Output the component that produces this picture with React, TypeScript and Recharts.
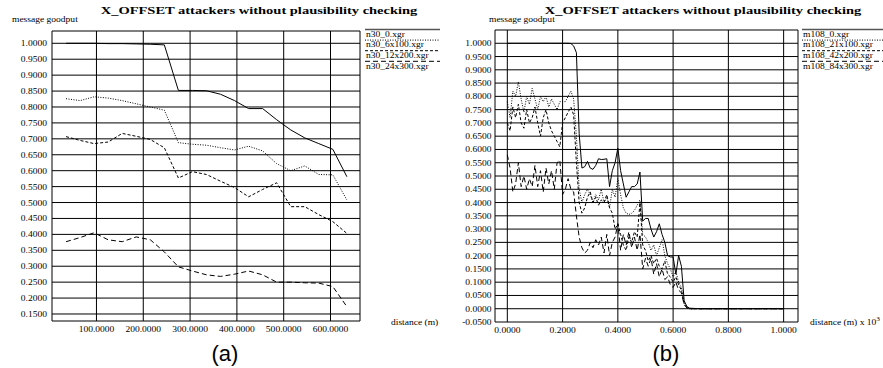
import React from "react";
import { LineChart, Line, XAxis, YAxis, CartesianGrid } from "recharts";

// panel (a): n30 runs, distance in metres
const distA = [35, 65, 95, 125, 155, 185, 215, 245, 275, 305, 335, 365, 395, 425, 455, 485, 515, 545, 575, 605, 635];
const n30_0 = [1.0, 1.0, 1.0, 0.999, 0.999, 0.998, 0.997, 0.995, 0.852, 0.852, 0.851, 0.84, 0.82, 0.795, 0.795, 0.76, 0.728, 0.703, 0.685, 0.667, 0.581];
const n30_6x100 = [0.826, 0.82, 0.832, 0.828, 0.82, 0.81, 0.8, 0.79, 0.688, 0.683, 0.68, 0.672, 0.665, 0.677, 0.662, 0.622, 0.6, 0.615, 0.588, 0.587, 0.508];
const n30_12x200 = [0.707, 0.695, 0.685, 0.69, 0.717, 0.708, 0.698, 0.672, 0.577, 0.597, 0.588, 0.567, 0.547, 0.518, 0.541, 0.562, 0.487, 0.487, 0.462, 0.44, 0.403];
const n30_24x300 = [0.377, 0.39, 0.405, 0.383, 0.377, 0.392, 0.383, 0.345, 0.298, 0.285, 0.273, 0.268, 0.275, 0.285, 0.273, 0.25, 0.25, 0.248, 0.247, 0.236, 0.173];

const xTicksA = [100, 200, 300, 400, 500, 600];
const yTicksA = [0.15, 0.2, 0.25, 0.3, 0.35, 0.4, 0.45, 0.5, 0.55, 0.6, 0.65, 0.7, 0.75, 0.8, 0.85, 0.9, 0.95, 1.0];

// panel (b): m108 runs, distance in km (m x 10^3)
const distB = [
  0.0, 0.01, 0.02, 0.03, 0.04, 0.05, 0.06, 0.07, 0.08, 0.09,
  0.1, 0.11, 0.12, 0.13, 0.14, 0.15, 0.16, 0.17, 0.18, 0.19,
  0.2, 0.21, 0.22, 0.23, 0.24, 0.25, 0.26, 0.27, 0.28, 0.29,
  0.3, 0.31, 0.32, 0.33, 0.34, 0.35, 0.36, 0.37, 0.38, 0.39,
  0.4, 0.41, 0.42, 0.43, 0.44, 0.45, 0.46, 0.47, 0.48, 0.49,
  0.5, 0.51, 0.52, 0.53, 0.54, 0.55, 0.56, 0.57, 0.58, 0.59,
  0.6, 0.61, 0.62, 0.63, 0.64, 0.65, 0.66, 0.7, 0.8, 0.9, 1.0,
];
const m108_0 = [
  1.0, 1.0, 1.0, 1.0, 1.0, 1.0, 1.0, 1.0, 1.0, 1.0,
  1.0, 1.0, 1.0, 1.0, 1.0, 1.0, 1.0, 1.0, 1.0, 1.0,
  1.0, 1.0, 1.0, 0.999, 0.99, 0.965, 0.66, 0.53, 0.535, 0.555,
  0.53, 0.525, 0.54, 0.565, 0.562, 0.563, 0.565, 0.46, 0.52, 0.55,
  0.605, 0.52, 0.47, 0.42, 0.44, 0.46, 0.46, 0.47, 0.515, 0.33,
  0.34, 0.34, 0.3, 0.27, 0.29, 0.32, 0.28, 0.25, 0.2, 0.195,
  0.195, 0.13, 0.2, 0.16, 0.03, 0.008, 0.002, 0, 0, 0, 0,
];
const m108_21x100 = [
  0.78, 0.72, 0.82, 0.8, 0.855, 0.79, 0.74, 0.8, 0.77, 0.83,
  0.79, 0.75, 0.8, 0.78, 0.8, 0.76, 0.79, 0.77, 0.75, 0.78,
  0.78, 0.78, 0.8, 0.82, 0.79, 0.65, 0.45, 0.4, 0.43, 0.45,
  0.43, 0.4, 0.43, 0.41, 0.45, 0.4, 0.42, 0.38, 0.45, 0.42,
  0.49, 0.43, 0.38, 0.36, 0.355, 0.36, 0.37, 0.39, 0.41, 0.28,
  0.27, 0.25, 0.22, 0.24, 0.2, 0.23, 0.26, 0.2, 0.17, 0.15,
  0.12, 0.14, 0.1, 0.08, 0.02, 0.005, 0.0, 0, 0, 0, 0,
];
const m108_42x200 = [
  0.7, 0.67, 0.76, 0.72, 0.77, 0.7, 0.68, 0.75, 0.7, 0.72,
  0.76, 0.7, 0.65, 0.72, 0.75, 0.7, 0.67, 0.65, 0.63, 0.61,
  0.7, 0.72, 0.74, 0.76, 0.73, 0.55, 0.4, 0.36, 0.38, 0.42,
  0.44, 0.4, 0.42, 0.39, 0.41, 0.4, 0.43, 0.38, 0.36, 0.3,
  0.32, 0.28, 0.24, 0.22, 0.27, 0.25, 0.29, 0.27, 0.4, 0.24,
  0.22, 0.18, 0.2, 0.17, 0.19, 0.16, 0.15, 0.18, 0.13, 0.12,
  0.1, 0.12, 0.09, 0.07, 0.02, 0.004, 0.0, 0, 0, 0, 0,
];
const m108_84x300 = [
  0.58, 0.53, 0.44, 0.47, 0.55, 0.46, 0.5, 0.45, 0.49, 0.46,
  0.54, 0.46, 0.52, 0.44, 0.53, 0.47, 0.52, 0.45, 0.55, 0.56,
  0.43, 0.45, 0.49, 0.45, 0.44, 0.35, 0.27, 0.23, 0.21, 0.22,
  0.25, 0.23, 0.26, 0.24, 0.27, 0.21, 0.28, 0.2, 0.25, 0.27,
  0.32, 0.22, 0.28, 0.24, 0.29, 0.23, 0.27, 0.22, 0.28, 0.15,
  0.19, 0.16, 0.19, 0.13, 0.17, 0.12, 0.15, 0.11, 0.12, 0.09,
  0.08, 0.1, 0.07, 0.06, 0.015, 0.003, 0.0, 0, 0, 0, 0,
];

const xTicksB = [0, 0.2, 0.4, 0.6, 0.8, 1.0];
const yTicksB = [
  -0.05, 0, 0.05, 0.1, 0.15, 0.2, 0.25, 0.3, 0.35, 0.4, 0.45,
  0.5, 0.55, 0.6, 0.65, 0.7, 0.75, 0.8, 0.85, 0.9, 0.95, 1.0,
];

const namesA = ["n30_0.xgr", "n30_6x100.xgr", "n30_12x200.xgr", "n30_24x300.xgr"];
const namesB = ["m108_0.xgr", "m108_21x100.xgr", "m108_42x200.xgr", "m108_84x300.xgr"];
const dashes = ["0", "1 1.5", "3 2", "5 3"];

const SERIF = "Liberation Serif, Times New Roman, serif";
const SANS = "Liberation Sans, Arial, sans-serif";
const SX = 1.12;

const dataA = distA.map((d, i) => ({
  d,
  s0: n30_0[i],
  s1: n30_6x100[i],
  s2: n30_12x200[i],
  s3: n30_24x300[i],
}));
const dataB = distB.map((d, i) => ({
  d,
  s0: m108_0[i],
  s1: m108_21x100[i],
  s2: m108_42x200[i],
  s3: m108_84x300[i],
}));

const YTick = (props: any) => {
  const { x, y, payload } = props;
  return (
    <g transform={`translate(${x},${y}) scale(${SX},1)`}>
      <text x={0} y={0} dy={3} textAnchor="end" style={{ fontFamily: SERIF }} fontSize={8.5} fill="#000">
        {payload.value.toFixed(4)}
      </text>
    </g>
  );
};

const XTick = (props: any) => {
  const { x, y, payload } = props;
  return (
    <g transform={`translate(${x},${y}) scale(${SX},1)`}>
      <text x={0} y={0} dy={11} textAnchor="middle" style={{ fontFamily: SERIF }} fontSize={8.5} fill="#000">
        {payload.value.toFixed(4)}
      </text>
    </g>
  );
};

const STxt = ({ x, y, children, size = 8.5, bold = false, anchor = "start", sx = SX }: any) => (
  <g transform={`translate(${x},${y}) scale(${sx},1)`}>
    <text x={0} y={0} textAnchor={anchor} style={{ fontFamily: SERIF }} fontSize={size} fontWeight={bold ? "bold" : "normal"} fill="#000">
      {children}
    </text>
  </g>
);

const Legend = ({ x1, x2, names }: { x1: number; x2: number; names: string[] }) => (
  <g>
    {names.map((n, i) => {
      const ly = 29.5 + i * 10.6;
      return (
        <g key={n}>
          <line x1={x1} x2={x2} y1={ly} y2={ly} stroke={i === 0 ? "#555" : "#000"} strokeWidth={i === 0 ? 1.3 : 1} strokeDasharray={dashes[i]} />
          <STxt x={x1 + 1} y={ly + 7.2}>{n}</STxt>
        </g>
      );
    })}
  </g>
);

const series = (
  ["s0", "s1", "s2", "s3"].map((k, i) => (
    <Line
      key={k}
      dataKey={k}
      type="linear"
      stroke="#000"
      strokeWidth={1}
      strokeDasharray={dashes[i]}
      dot={false}
      isAnimationActive={false}
    />
  ))
);

export default function App() {
  return (
    <div style={{ position: "fixed", left: 0, top: 0, width: 883, height: 368, background: "#fff" }}>
      <div style={{ position: "absolute", left: 0, top: 0 }}>
        <LineChart width={440} height={368} data={dataA} margin={{ top: 31, right: 80, left: 0, bottom: 0 }}>
          <CartesianGrid stroke="#000" strokeWidth={1} />
          <XAxis
            dataKey="d"
            type="number"
            domain={[5, 663]}
            ticks={xTicksA}
            interval={0}
            allowDataOverflow
            axisLine={false}
            tickLine={false}
            tickSize={0}
            tickMargin={0}
            height={47}
            tick={<XTick />}
          />
          <YAxis
            type="number"
            domain={[0.128, 1.0386]}
            ticks={yTicksA}
            interval={0}
            allowDataOverflow
            axisLine={false}
            tickLine={false}
            tickSize={0}
            tickMargin={5}
            width={52}
            tick={<YTick />}
          />
          {series}
        </LineChart>
      </div>
      <div style={{ position: "absolute", left: 440, top: 0 }}>
        <LineChart width={443} height={368} data={dataB} margin={{ top: 30, right: 85, left: 0, bottom: 0 }}>
          <CartesianGrid stroke="#000" strokeWidth={1} />
          <XAxis
            dataKey="d"
            type="number"
            domain={[-0.0446, 1.052]}
            ticks={xTicksB}
            interval={0}
            allowDataOverflow
            axisLine={false}
            tickLine={false}
            tickSize={0}
            tickMargin={0}
            height={46}
            tick={<XTick />}
          />
          <YAxis
            type="number"
            domain={[-0.05, 1.05]}
            ticks={yTicksB}
            interval={0}
            allowDataOverflow
            axisLine={false}
            tickLine={false}
            tickSize={0}
            tickMargin={3.5}
            width={55}
            tick={<YTick />}
          />
          {series}
        </LineChart>
      </div>
      <svg width={883} height={368} style={{ position: "absolute", left: 0, top: 0, pointerEvents: "none" }}>
        <STxt x={259} y={14} size={10.5} bold anchor="middle" sx={1.38}>
          X_OFFSET attackers without plausibility checking
        </STxt>
        <STxt x={703} y={14} size={10.5} bold anchor="middle" sx={1.38}>
          X_OFFSET attackers without plausibility checking
        </STxt>
        <STxt x={12} y={22}>message goodput</STxt>
        <STxt x={489} y={22}>message goodput</STxt>
        <Legend x1={365} x2={440} names={namesA} />
        <Legend x1={802} x2={883} names={namesB} />
        <STxt x={391} y={325}>distance (m)</STxt>
        <g transform="translate(810,325) scale(1.12,1)">
          <text x={0} y={0} style={{ fontFamily: SERIF }} fontSize={8.5} fill="#000">
            distance (m) x 10
            <tspan dy={-4} fontSize={6.5}>3</tspan>
          </text>
        </g>
        <text x={225} y={361} textAnchor="middle" style={{ fontFamily: SANS }} fontSize={22} fill="#000">(a)</text>
        <text x={666} y={361} textAnchor="middle" style={{ fontFamily: SANS }} fontSize={22} fill="#000">(b)</text>
      </svg>
    </div>
  );
}
